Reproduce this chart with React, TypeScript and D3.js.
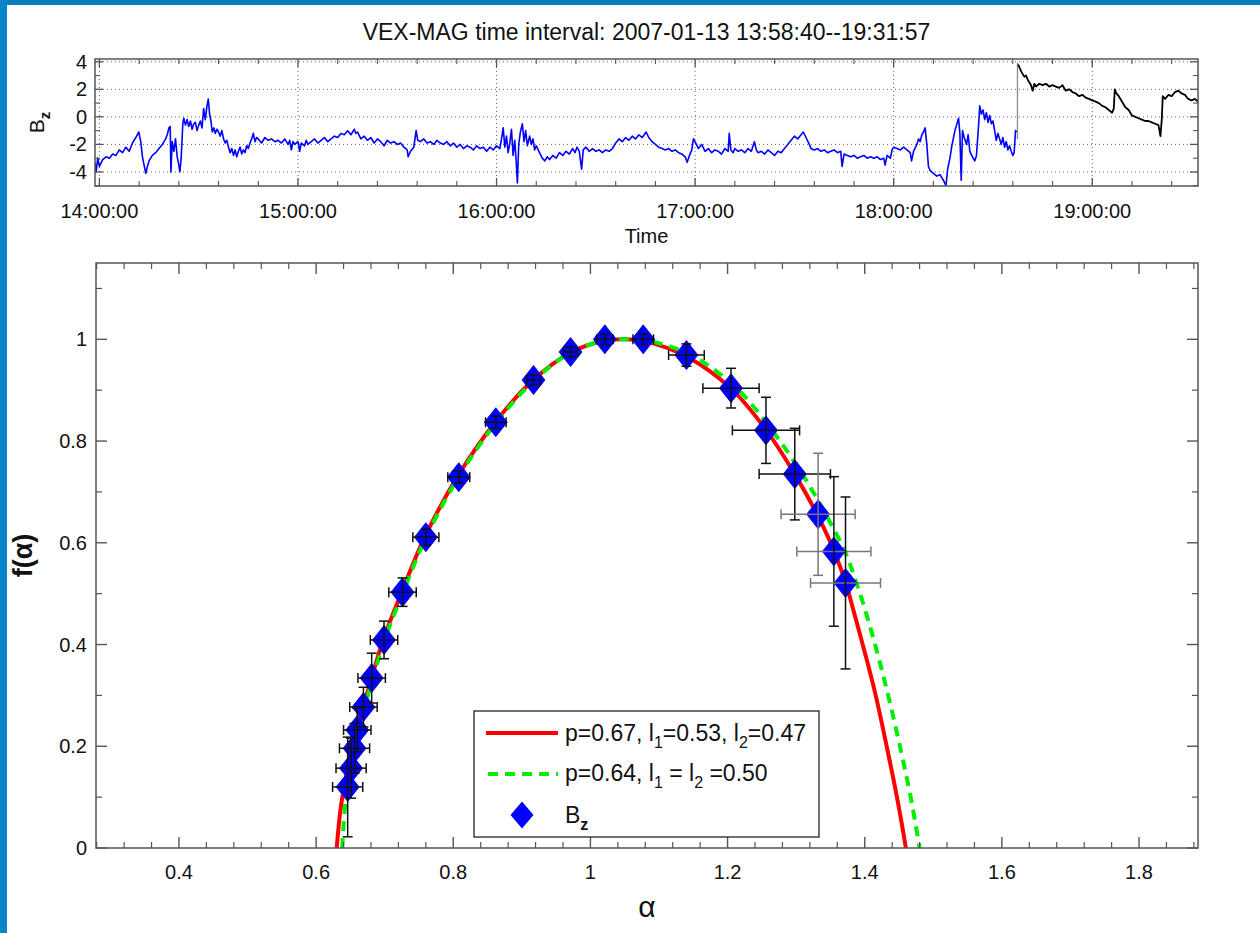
import React from 'react';
import * as d3 from 'd3';

const W = 1260;
const H = 933;
const FONT = '"Liberation Sans", Arial, Helvetica, sans-serif';

// ---------------- top panel data ----------------
const titleText = 'VEX-MAG time interval: 2007-01-13 13:58:40--19:31:57';
const tStart = new Date(2007, 0, 13, 13, 58, 40);
const tEnd = new Date(2007, 0, 13, 19, 31, 57);
const tRef = new Date(2007, 0, 13, 14, 0, 0); // minutes below are counted from 14:00:00
const bzTickValues = [-4, -2, 0, 2, 4];
const bzMinorTickValues = [-5, -3, -1, 1, 3];

// [minutes after 14:00, Bz (nT)] — solar wind part (blue)
const bzBlue: [number, number][] = [
  [-1.33, -3.3], [-1, -4.0], [-0.5, -3.0], [0, -3.6], [1, -3.1], [2, -2.9], [3, -3.0], [4, -2.7], [5, -2.8], [6, -2.4],
  [7, -2.6], [8, -2.2], [9, -2.5], [10, -1.9], [11, -1.5], [11.9, -1.1], [12.5, -1.8], [13, -2.9], [14, -4.1], [14.5, -3.6],
  [15, -3.2], [16, -2.8], [17, -2.6], [18, -2.3], [19, -2.0], [20, -1.6], [20.5, -1.3], [21, -0.8], [21.4, -0.7], [21.6, -4.0],
  [22, -1.8], [22.5, -2.5], [23, -1.6], [23.5, -2.9], [24, -3.5], [24.3, -4.0], [24.7, -3.0], [25.2, -0.5], [25.5, -0.1], [26, -0.6],
  [26.5, -0.2], [27, -0.7], [27.5, -0.3], [28, -0.9], [28.5, -0.5], [29, -0.4], [29.5, -1.0], [30, -0.6], [30.5, -0.3], [31, -0.8],
  [31.5, 0.6], [32, -0.2], [32.5, 0.8], [32.9, 1.3], [33.3, 0.2], [33.7, -0.3], [34.1, -1.1], [34.6, -0.8], [35, -1.2], [35.5, -0.9],
  [36, -1.1], [36.5, -1.4], [37, -1.0], [37.5, -1.6], [38, -1.9], [38.5, -1.7], [39, -2.2], [39.5, -2.6], [40, -2.3], [40.5, -2.8],
  [41, -2.4], [41.5, -2.9], [42, -2.5], [42.5, -2.2], [43, -2.7], [43.5, -2.4], [44, -2.6], [44.5, -2.1], [45, -2.3], [45.5, -1.9],
  [46, -1.6], [46.5, -1.2], [47, -1.8], [47.5, -1.5], [48, -1.6], [49, -1.9], [50, -1.5], [51, -1.7], [52, -1.6], [53, -1.8],
  [54, -1.7], [55, -1.9], [56, -1.6], [57, -2.0], [57.5, -1.7], [58, -2.4], [58.5, -1.8], [59, -2.0], [60, -1.8], [60.5, -2.5],
  [61, -1.9], [62, -2.1], [62.5, -1.7], [63, -2.0], [64, -1.8], [65, -1.6], [66, -1.9], [67, -1.7], [68, -1.5], [69, -1.8],
  [70, -1.6], [71, -1.4], [72, -1.5], [73, -1.2], [74, -1.3], [75, -1.0], [76, -1.3], [77, -0.9], [77.5, -1.2], [78, -1.1],
  [79, -1.6], [80, -1.4], [81, -1.7], [82, -1.5], [83, -1.9], [84, -1.6], [85, -1.8], [86, -2.1], [87, -1.7], [88, -1.9],
  [89, -1.8], [90, -2.0], [91, -1.9], [92, -2.2], [93, -2.4], [93.3, -2.9], [94, -2.5], [95, -2.2], [95.7, -1.0], [96.2, -1.7],
  [97, -1.8], [98, -1.6], [99, -1.9], [100, -1.8], [101, -2.0], [102, -1.7], [103, -1.9], [104, -2.0], [105, -1.8], [106, -2.1],
  [107, -1.9], [108, -2.2], [109, -2.0], [110, -2.3], [111, -2.1], [112, -2.2], [113, -2.4], [114, -2.1], [115, -2.3], [116, -2.2],
  [117, -2.5], [118, -2.2], [119, -2.4], [120, -2.1], [121, -2.3], [121.5, -1.6], [122, -0.8], [122.5, -2.2], [123, -1.4], [123.5, -2.6],
  [124, -1.9], [124.5, -0.9], [125, -2.8], [125.5, -1.7], [126, -3.5], [126.3, -4.8], [126.7, -2.0], [127.2, -1.1], [127.8, -0.5], [128.3, -1.8],
  [128.8, -1.0], [129.3, -2.1], [130, -1.4], [130.5, -2.0], [131, -1.6], [131.5, -2.4], [132, -2.1], [133, -2.6], [133.8, -3.0], [134.6, -3.2],
  [135.3, -2.9], [136, -3.1], [137, -2.8], [138, -3.0], [139, -2.6], [140, -2.8], [141, -2.5], [142, -2.7], [143, -2.3], [143.7, -2.6],
  [144.3, -2.2], [145, -2.5], [145.7, -3.8], [146.2, -2.4], [147, -2.2], [148, -2.5], [149, -2.3], [150, -2.5], [151, -2.4], [152, -2.6],
  [153, -2.4], [154, -2.5], [155, -2.3], [156, -1.9], [157, -1.6], [158, -1.8], [159, -1.5], [160, -1.7], [161, -1.4], [162, -1.6],
  [163, -1.3], [164, -1.5], [165.2, -1.1], [166, -1.5], [167, -1.8], [168, -2.0], [169, -2.2], [170, -2.3], [171, -2.4], [172, -2.3],
  [173, -2.5], [174, -2.4], [175, -2.6], [176, -2.7], [177, -2.9], [177.6, -3.3], [178.3, -2.8], [179, -2.4], [179.5, -1.6], [180.2, -1.9],
  [181, -2.3], [182, -2.0], [183, -2.5], [184, -2.3], [185, -2.6], [186, -2.4], [187, -2.5], [188, -2.7], [189, -2.3], [190, -2.5],
  [190.3, -1.2], [190.8, -2.4], [191.5, -2.6], [192, -2.3], [193, -2.5], [194, -2.4], [195, -2.6], [196, -2.3], [197, -2.5], [197.9, -1.8],
  [198.5, -2.4], [199, -2.6], [200, -2.5], [201, -2.7], [202, -2.4], [203, -2.6], [204, -2.8], [205, -2.5], [206, -2.6], [207, -2.3],
  [208, -2.0], [209, -1.7], [210, -1.4], [211, -1.6], [212, -1.3], [212.7, -1.1], [213.5, -1.5], [214.5, -2.0], [215, -2.3], [216, -2.4],
  [217, -2.3], [218, -2.5], [219, -2.4], [220, -2.6], [221, -2.5], [222, -2.4], [223, -2.6], [224, -2.5], [224.4, -3.6], [225, -2.7],
  [226, -2.8], [227, -2.9], [228, -2.8], [229, -3.0], [230, -2.9], [231, -2.8], [232, -3.0], [233, -2.9], [234, -3.0], [235, -2.9],
  [236, -3.1], [237, -3.0], [237.4, -3.5], [238, -2.8], [239, -3.0], [239.5, -2.4], [240, -2.2], [241, -2.3], [242, -2.4], [243, -2.2],
  [244, -2.4], [245, -2.6], [245.4, -3.2], [246, -2.5], [247, -2.0], [247.5, -1.6], [248, -1.8], [248.5, -1.3], [249, -1.1], [249.5, -0.8],
  [250, -2.0], [250.5, -3.6], [251, -3.9], [252, -4.1], [253, -4.3], [254, -4.2], [255, -4.6], [255.8, -5.0], [256.3, -3.8], [257, -3.0],
  [257.5, -2.2], [258, -1.6], [258.5, -1.0], [259, -0.6], [259.6, -0.1], [260, -1.2], [260.4, -4.6], [260.8, -1.0], [261.3, -1.5], [262, -2.0],
  [262.5, -1.3], [263, -2.5], [264, -3.0], [264.5, -3.2], [265, -2.8], [265.6, -0.8], [266, 0.8], [266.5, 0.2], [267, 0.5], [267.5, -0.2],
  [268, 0.3], [268.5, -0.4], [269, 0.1], [269.5, -0.5], [270, -0.3], [270.5, -1.0], [271, -1.7], [271.5, -1.2], [272, -1.6], [272.5, -2.0],
  [273, -1.5], [273.5, -2.2], [274, -1.8], [274.5, -2.4], [275, -2.1], [275.5, -2.5], [276, -2.8], [276.4, -2.6], [276.8, -1.0], [277.2, -1.1],
];

// jump connecting the two parts (grey)
const bzJumpMinute = 277.4;
const bzJumpValues = [-1.6, 3.95];

// magnetosheath part (black)
const bzBlack: [number, number][] = [
  [277.6, 3.8], [278, 3.6], [278.5, 3.3], [279, 3.1], [279.5, 2.9], [280, 3.0], [280.5, 2.7], [281, 2.5], [281.5, 2.3], [282, 1.9],
  [282.5, 2.4], [283, 2.2], [284, 2.4], [285, 2.3], [286, 2.4], [287, 2.2], [288, 2.3], [289, 2.2], [290, 2.1], [291, 2.3],
  [292, 1.9], [293, 2.0], [294, 1.8], [295, 1.7], [296, 1.5], [297, 1.6], [298, 1.4], [299, 1.3], [300, 1.2], [301, 1.1],
  [302, 1.0], [303, 0.8], [304, 0.7], [305, 0.5], [306, 0.3], [306.5, 0.6], [306.8, 2.0], [307.3, 1.7], [308, 1.5], [309, 1.1],
  [310, 0.7], [311, 0.5], [312, 0.1], [313, 0.0], [314, -0.1], [315, -0.2], [316, -0.3], [317, -0.3], [318, -0.4], [319, -0.5],
  [320, -0.6], [320.6, -1.4], [321, -0.2], [321.3, 1.5], [322, 1.3], [323, 1.6], [324, 1.5], [325, 1.8], [326, 1.9], [327, 1.7],
  [328, 1.6], [329, 1.3], [330, 1.2], [331, 1.3], [331.95, 1.1],
];

// ---------------- bottom panel data ----------------
const alphaVals = [0.646, 0.651, 0.656, 0.660, 0.669, 0.681, 0.699, 0.726, 0.760, 0.808, 0.862, 0.917, 0.971, 1.021, 1.077, 1.140, 1.205, 1.256, 1.298, 1.332, 1.355, 1.372];
const fVals = [0.120, 0.157, 0.196, 0.232, 0.277, 0.334, 0.409, 0.503, 0.611, 0.729, 0.837, 0.920, 0.975, 1.000, 1.000, 0.969, 0.904, 0.821, 0.735, 0.656, 0.583, 0.521];
const alphaErr = [0.022, 0.022, 0.022, 0.020, 0.020, 0.020, 0.020, 0.020, 0.019, 0.016, 0.015, 0.010, 0.010, 0.012, 0.015, 0.026, 0.041, 0.049, 0.052, 0.054, 0.054, 0.051];
const fErr = [0.098, 0.059, 0.049, 0.043, 0.039, 0.049, 0.037, 0.028, 0.016, 0.012, 0.012, 0.010, 0.010, 0.010, 0.010, 0.022, 0.039, 0.065, 0.090, 0.120, 0.147, 0.169];

// model spectra: p=0.67, l1=0.53, l2=0.47 (red) and p=0.64, l1=l2=0.5 (green)
const redFit: [number, number][] = [
  [0.630, 0.00], [0.636, 0.08], [0.645, 0.15], [0.655, 0.21], [0.667, 0.27], [0.680, 0.33], [0.698, 0.41], [0.724, 0.50],
  [0.758, 0.61], [0.806, 0.73], [0.860, 0.835], [0.915, 0.918], [0.970, 0.973], [1.020, 0.997], [1.050, 1.000], [1.080, 0.996],
  [1.140, 0.966], [1.205, 0.903], [1.256, 0.822], [1.298, 0.735], [1.332, 0.652], [1.355, 0.585], [1.372, 0.522], [1.387, 0.450],
  [1.401, 0.380], [1.416, 0.300], [1.432, 0.200], [1.447, 0.100], [1.455, 0.040], [1.460, 0.000],
];
const greenFit: [number, number][] = [
  [0.638, 0.00], [0.642, 0.08], [0.649, 0.15], [0.658, 0.21], [0.669, 0.27], [0.682, 0.33], [0.700, 0.41], [0.726, 0.50],
  [0.760, 0.61], [0.808, 0.73], [0.862, 0.835], [0.917, 0.918], [0.971, 0.974], [1.022, 0.998], [1.055, 1.000], [1.085, 0.997],
  [1.145, 0.970], [1.210, 0.908], [1.262, 0.826], [1.308, 0.737], [1.343, 0.656], [1.371, 0.583], [1.388, 0.521], [1.405, 0.448],
  [1.421, 0.370], [1.436, 0.290], [1.453, 0.190], [1.467, 0.100], [1.475, 0.040], [1.480, 0.000],
];
const alphaTickValues = [0.4, 0.6, 0.8, 1.0, 1.2, 1.4, 1.6, 1.8];
const fTickValues = [0, 0.2, 0.4, 0.6, 0.8, 1.0];
const fMinorTickValues = [0.1, 0.3, 0.5, 0.7, 0.9, 1.1];
const legendRed = 'p=0.67, l';
const legendGreen = 'p=0.64, l';

// style: error bars drawn lighter
const lightHBars = [19, 20, 21];
const lightVBars = [19];

const diamond = (cx: number, cy: number, w: number, h: number) =>
  `M${cx},${cy - h / 2}L${cx + w / 2},${cy}L${cx},${cy + h / 2}L${cx - w / 2},${cy}Z`;

export default function App() {
  const TP = { l: 95, r: 1198, t: 59, b: 186 };
  const BP = { l: 96, r: 1198, t: 263, b: 848 };

  const xTime = d3.scaleTime().domain([tStart, tEnd]).range([TP.l, TP.r]);
  const yBz = d3.scaleLinear().domain([-5.02, 4.2]).range([TP.b, TP.t]);
  const minuteToDate = (m: number) => new Date(tRef.getTime() + m * 60000);
  const bzLine = d3
    .line<[number, number]>()
    .x((d) => xTime(minuteToDate(d[0])))
    .y((d) => yBz(d[1]));
  const hourTicks = d3.timeHour.every(1)!.range(tStart, tEnd);
  const minorTimeTicks = d3.timeMinute
    .every(12)!
    .range(tStart, tEnd)
    .filter((d) => d.getMinutes() !== 0);
  const fmt = d3.timeFormat('%H:%M:%S');

  const xA = d3.scaleLinear().domain([0.279, 1.886]).range([BP.l, BP.r]);
  const yF = d3.scaleLinear().domain([0, 1.15]).range([BP.b, BP.t]);
  const fitLine = d3
    .line<[number, number]>()
    .x((d) => xA(d[0]))
    .y((d) => yF(d[1]))
    .curve(d3.curveCatmullRom.alpha(0.5));
  const alphaMinor = d3
    .range(7, 48)
    .map((i) => +(i * 0.04).toFixed(2))
    .filter((v) => !alphaTickValues.some((t) => Math.abs(t - v) < 1e-6));

  const axisColor = '#555';
  const tickColor = '#555';

  return (
    <svg
      width={W}
      height={H}
      viewBox={`0 0 ${W} ${H}`}
      style={{ position: 'absolute', left: 0, top: 0, background: '#fff' }}
      fontFamily={FONT}
    >
      <defs>
        <clipPath id="clipTop">
          <rect x={TP.l} y={TP.t} width={TP.r - TP.l} height={TP.b - TP.t} />
        </clipPath>
        <clipPath id="clipBot">
          <rect x={BP.l} y={BP.t} width={BP.r - BP.l} height={BP.b - BP.t} />
        </clipPath>
      </defs>
      <rect x={0} y={0} width={W} height={H} fill="#fff" />
      {/* frame */}
      <rect x={0} y={0} width={W} height={5} fill="#0a7cc0" />
      <rect x={0} y={0} width={7} height={H} fill="#0a84c8" />

      {/* title */}
      <text x={(TP.l + TP.r) / 2} y={40} textAnchor="middle" fontSize={23} fill="#111">
        {titleText}
      </text>

      {/* ---------- top panel ---------- */}
      <g>
        {hourTicks.map((d, i) => (
          <line key={'gx' + i} x1={xTime(d)} x2={xTime(d)} y1={TP.t} y2={TP.b} stroke="#666" strokeWidth={1} strokeDasharray="1,3" />
        ))}
        {bzTickValues.map((v, i) => (
          <line key={'gy' + i} x1={TP.l} x2={TP.r} y1={yBz(v)} y2={yBz(v)} stroke="#666" strokeWidth={1} strokeDasharray="1,3" />
        ))}
        <g clipPath="url(#clipTop)">
          <path d={bzLine(bzBlue) || ''} fill="none" stroke="#0000ff" strokeWidth={1.6} strokeLinejoin="round" />
          <line
            x1={xTime(minuteToDate(bzJumpMinute))}
            x2={xTime(minuteToDate(bzJumpMinute))}
            y1={yBz(bzJumpValues[0])}
            y2={yBz(bzJumpValues[1])}
            stroke="#888"
            strokeWidth={1.3}
          />
          <path d={bzLine(bzBlack) || ''} fill="none" stroke="#000" strokeWidth={1.8} strokeLinejoin="round" />
        </g>
        {hourTicks.map((d, i) => (
          <g key={'tx' + i}>
            <line x1={xTime(d)} x2={xTime(d)} y1={TP.b} y2={TP.b - 8} stroke={tickColor} strokeWidth={1.3} />
            <line x1={xTime(d)} x2={xTime(d)} y1={TP.t} y2={TP.t + 8} stroke={tickColor} strokeWidth={1.3} />
            <text x={xTime(d)} y={218} textAnchor="middle" fontSize={20} fill="#111">
              {fmt(d)}
            </text>
          </g>
        ))}
        {minorTimeTicks.map((d, i) => (
          <g key={'tmx' + i}>
            <line x1={xTime(d)} x2={xTime(d)} y1={TP.b} y2={TP.b - 5} stroke={tickColor} strokeWidth={1.1} />
            <line x1={xTime(d)} x2={xTime(d)} y1={TP.t} y2={TP.t + 5} stroke={tickColor} strokeWidth={1.1} />
          </g>
        ))}
        {bzTickValues.map((v, i) => (
          <g key={'ty' + i}>
            <line x1={TP.l} x2={TP.l + 8} y1={yBz(v)} y2={yBz(v)} stroke={tickColor} strokeWidth={1.3} />
            <line x1={TP.r} x2={TP.r - 8} y1={yBz(v)} y2={yBz(v)} stroke={tickColor} strokeWidth={1.3} />
            <text x={TP.l - 8} y={yBz(v) + 7} textAnchor="end" fontSize={20} fill="#111">
              {v}
            </text>
          </g>
        ))}
        {bzMinorTickValues.map((v, i) => (
          <g key={'tmy' + i}>
            <line x1={TP.l} x2={TP.l + 5} y1={yBz(v)} y2={yBz(v)} stroke={tickColor} strokeWidth={1.1} />
            <line x1={TP.r} x2={TP.r - 5} y1={yBz(v)} y2={yBz(v)} stroke={tickColor} strokeWidth={1.1} />
          </g>
        ))}
        <rect x={TP.l} y={TP.t} width={TP.r - TP.l} height={TP.b - TP.t} fill="none" stroke={axisColor} strokeWidth={1.5} />
        <text x={(TP.l + TP.r) / 2} y={243} textAnchor="middle" fontSize={20} fill="#111">
          Time
        </text>
        <text transform={`translate(44,${(TP.t + TP.b) / 2}) rotate(-90)`} textAnchor="middle" fontSize={21} fill="#111">
          B
          <tspan dy={6} fontSize={15} fontWeight="bold">
            z
          </tspan>
        </text>
      </g>

      {/* ---------- bottom panel ---------- */}
      <g>
        <g clipPath="url(#clipBot)">
          <path d={fitLine(redFit) || ''} fill="none" stroke="#ff0000" strokeWidth={4} />
          <path d={fitLine(greenFit) || ''} fill="none" stroke="#00ee00" strokeWidth={4} strokeDasharray="10,7" />
          {alphaVals.map((a, i) => (
            <path key={'dm' + i} d={diamond(xA(a), yF(fVals[i]), 23, 29)} fill="#0000ff" stroke="#0000cc" strokeWidth={0.8} />
          ))}
          {alphaVals.map((a, i) => {
            const cx = xA(a);
            const cy = yF(fVals[i]);
            const x0 = xA(a - alphaErr[i]);
            const x1 = xA(a + alphaErr[i]);
            const y0 = yF(fVals[i] - fErr[i]);
            const y1 = yF(fVals[i] + fErr[i]);
            const hc = lightHBars.includes(i) ? '#777' : '#111';
            const vc = lightVBars.includes(i) ? '#777' : '#111';
            return (
              <g key={'eb' + i} strokeWidth={1.5}>
                <line x1={x0} x2={x1} y1={cy} y2={cy} stroke={hc} />
                <line x1={x0} x2={x0} y1={cy - 5} y2={cy + 5} stroke={hc} />
                <line x1={x1} x2={x1} y1={cy - 5} y2={cy + 5} stroke={hc} />
                <line x1={cx} x2={cx} y1={y0} y2={y1} stroke={vc} />
                <line x1={cx - 5} x2={cx + 5} y1={y0} y2={y0} stroke={vc} />
                <line x1={cx - 5} x2={cx + 5} y1={y1} y2={y1} stroke={vc} />
              </g>
            );
          })}
        </g>
        {alphaTickValues.map((v, i) => (
          <g key={'ax' + i}>
            <line x1={xA(v)} x2={xA(v)} y1={BP.b} y2={BP.b - 11} stroke={tickColor} strokeWidth={1.4} />
            <line x1={xA(v)} x2={xA(v)} y1={BP.t} y2={BP.t + 11} stroke={tickColor} strokeWidth={1.4} />
            <text x={xA(v)} y={879} textAnchor="middle" fontSize={20} fill="#111">
              {d3.format('~g')(v)}
            </text>
          </g>
        ))}
        {alphaMinor.map((v, i) => (
          <g key={'axm' + i}>
            <line x1={xA(v)} x2={xA(v)} y1={BP.b} y2={BP.b - 6} stroke={tickColor} strokeWidth={1.2} />
            <line x1={xA(v)} x2={xA(v)} y1={BP.t} y2={BP.t + 6} stroke={tickColor} strokeWidth={1.2} />
          </g>
        ))}
        {fTickValues.map((v, i) => (
          <g key={'fy' + i}>
            <line x1={BP.l} x2={BP.l + 11} y1={yF(v)} y2={yF(v)} stroke={tickColor} strokeWidth={1.4} />
            <line x1={BP.r} x2={BP.r - 11} y1={yF(v)} y2={yF(v)} stroke={tickColor} strokeWidth={1.4} />
            <text x={BP.l - 9} y={yF(v) + 7} textAnchor="end" fontSize={20} fill="#111">
              {d3.format('~g')(v)}
            </text>
          </g>
        ))}
        {fMinorTickValues.map((v, i) => (
          <g key={'fym' + i}>
            <line x1={BP.l} x2={BP.l + 6} y1={yF(v)} y2={yF(v)} stroke={tickColor} strokeWidth={1.2} />
            <line x1={BP.r} x2={BP.r - 6} y1={yF(v)} y2={yF(v)} stroke={tickColor} strokeWidth={1.2} />
          </g>
        ))}
        <rect x={BP.l} y={BP.t} width={BP.r - BP.l} height={BP.b - BP.t} fill="none" stroke={axisColor} strokeWidth={1.5} />
        <text x={(BP.l + BP.r) / 2} y={917} textAnchor="middle" fontSize={30} fill="#111">
          α
        </text>
        <text
          transform={`translate(32,${(BP.t + BP.b) / 2}) rotate(-90)`}
          textAnchor="middle"
          fontSize={27}
          fontWeight="bold"
          fill="#111"
        >
          f(α)
        </text>

        {/* legend */}
        <g>
          <rect x={474} y={711} width={345} height={126} fill="#fff" stroke="#222" strokeWidth={1.3} />
          <line x1={486} x2={558} y1={733} y2={733} stroke="#ff0000" strokeWidth={4} />
          <text x={565} y={741} fontSize={23} fill="#111">
            {legendRed}
            <tspan dy={7} fontSize={16}>1</tspan>
            <tspan dy={-7}>=0.53, l</tspan>
            <tspan dy={7} fontSize={16}>2</tspan>
            <tspan dy={-7}>=0.47</tspan>
          </text>
          <line x1={488} x2={558} y1={774} y2={774} stroke="#00ee00" strokeWidth={4} strokeDasharray="10,7" />
          <text x={565} y={781} fontSize={23} fill="#111">
            {legendGreen}
            <tspan dy={7} fontSize={16}>1</tspan>
            <tspan dy={-7}> = l</tspan>
            <tspan dy={7} fontSize={16}>2</tspan>
            <tspan dy={-7}> =0.50</tspan>
          </text>
          <path d={diamond(522, 815, 23, 27)} fill="#0000ff" />
          <text x={565} y={823} fontSize={23} fill="#111">
            B
            <tspan dy={7} fontSize={16} fontWeight="bold">z</tspan>
          </text>
        </g>
      </g>
    </svg>
  );
}
